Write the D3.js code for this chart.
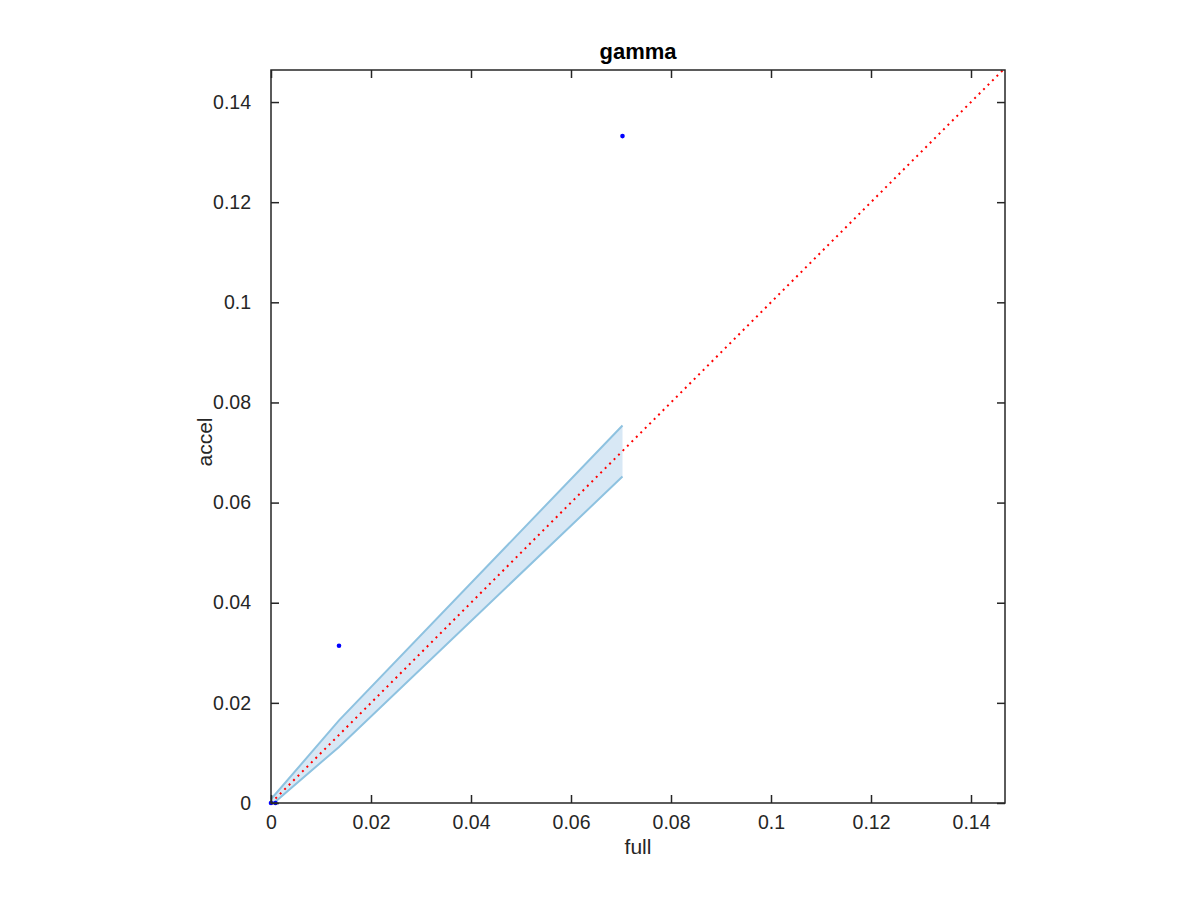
<!DOCTYPE html>
<html><head><meta charset="utf-8">
<script src="https://cdn.jsdelivr.net/npm/d3@7"></script>
<style>body{margin:0;background:#fff;} text{font-family:"Liberation Sans",Arial,Helvetica,sans-serif;}</style>
</head><body>
<svg id="c" width="1200" height="900"></svg>
<script>
const tickValues = [0, 0.02, 0.04, 0.06, 0.08, 0.1, 0.12, 0.14];
const tickLabels = ["0", "0.02", "0.04", "0.06", "0.08", "0.1", "0.12", "0.14"];
const pointsX = [0, 0.0009, 0.0136, 0.0703];
const pointsY = [0, 0, 0.0314, 0.1332];
const bandX = [0, 0.0009, 0.0136, 0.0703];
const bandUpper = [0.0008, 0.0018, 0.0165, 0.0754];
const bandLower = [0, 0.0003, 0.0112, 0.0652];
const xMax = 0.1468, yMax = 0.1464;

const svg = d3.select("#c");
const L = 271, R = 1005, T = 70, B = 803;
const x = d3.scaleLinear().domain([0, xMax]).range([L, R]);
const y = d3.scaleLinear().domain([0, yMax]).range([B, T]);

// band
const band = bandX.map((v, i) => ({x: v, u: bandUpper[i], l: bandLower[i]}));
svg.append("path").datum(band)
  .attr("d", d3.area().x(d => x(d.x)).y0(d => y(d.l)).y1(d => y(d.u)))
  .attr("fill", "#d8e8f5");
svg.append("path").datum(band)
  .attr("d", d3.line().x(d => x(d.x)).y(d => y(d.u)))
  .attr("fill", "none").attr("stroke", "#8ec2e0").attr("stroke-width", 2);
svg.append("path").datum(band)
  .attr("d", d3.line().x(d => x(d.x)).y(d => y(d.l)))
  .attr("fill", "none").attr("stroke", "#8ec2e0").attr("stroke-width", 2);

// identity line
svg.append("line")
  .attr("x1", x(0)).attr("y1", y(0)).attr("x2", x(xMax)).attr("y2", y(xMax))
  .attr("stroke", "#ff0000").attr("stroke-width", 2)
  .attr("stroke-dasharray", "2,4.3");

// points
svg.selectAll("circle.pt").data(pointsX.map((v, i) => [v, pointsY[i]])).enter()
  .append("circle").attr("class", "pt")
  .attr("cx", d => x(d[0])).attr("cy", d => y(d[1])).attr("r", 2.3)
  .attr("fill", "#0000ff");

// axes box with inward ticks
const ax = "#262626";
const g = svg.append("g");
const xb = g.append("g").attr("transform", `translate(0,${B})`)
  .call(d3.axisBottom(x).tickValues(tickValues).tickSizeInner(-8).tickSizeOuter(0).tickPadding(12)
    .tickFormat((d, i) => tickLabels[i]));
const xt = g.append("g").attr("transform", `translate(0,${T})`)
  .call(d3.axisTop(x).tickValues(tickValues).tickSizeInner(-8).tickSizeOuter(0).tickFormat(""));
const yl = g.append("g").attr("transform", `translate(${L},0)`)
  .call(d3.axisLeft(y).tickValues(tickValues).tickSizeInner(-8).tickSizeOuter(0).tickPadding(20)
    .tickFormat((d, i) => tickLabels[i]));
const yr = g.append("g").attr("transform", `translate(${R},0)`)
  .call(d3.axisRight(y).tickValues(tickValues).tickSizeInner(-8).tickSizeOuter(0).tickFormat(""));
[xb, xt, yl, yr].forEach(a => {
  a.select(".domain").remove();
  a.selectAll("line").attr("stroke", ax).attr("stroke-width", 1.5);
  a.selectAll("text").attr("fill", ax).style("font-size", "19.5px").style("font-family", "'Liberation Sans',Arial,sans-serif");
});
g.append("rect").attr("x", L).attr("y", T).attr("width", R - L).attr("height", B - T)
  .attr("fill", "none").attr("stroke", ax).attr("stroke-width", 1.5);

// labels
svg.append("text").attr("x", (L + R) / 2).attr("y", 59).attr("text-anchor", "middle")
  .style("font-size", "22px").style("font-weight", "bold").attr("fill", "#000").text("gamma");
svg.append("text").attr("x", (L + R) / 2).attr("y", 854).attr("text-anchor", "middle")
  .style("font-size", "21px").attr("fill", ax).text("full");
svg.append("text").attr("transform", `translate(212,442) rotate(-90)`).attr("text-anchor", "middle")
  .style("font-size", "21px").attr("fill", ax).text("accel");
</script>
</body></html>
